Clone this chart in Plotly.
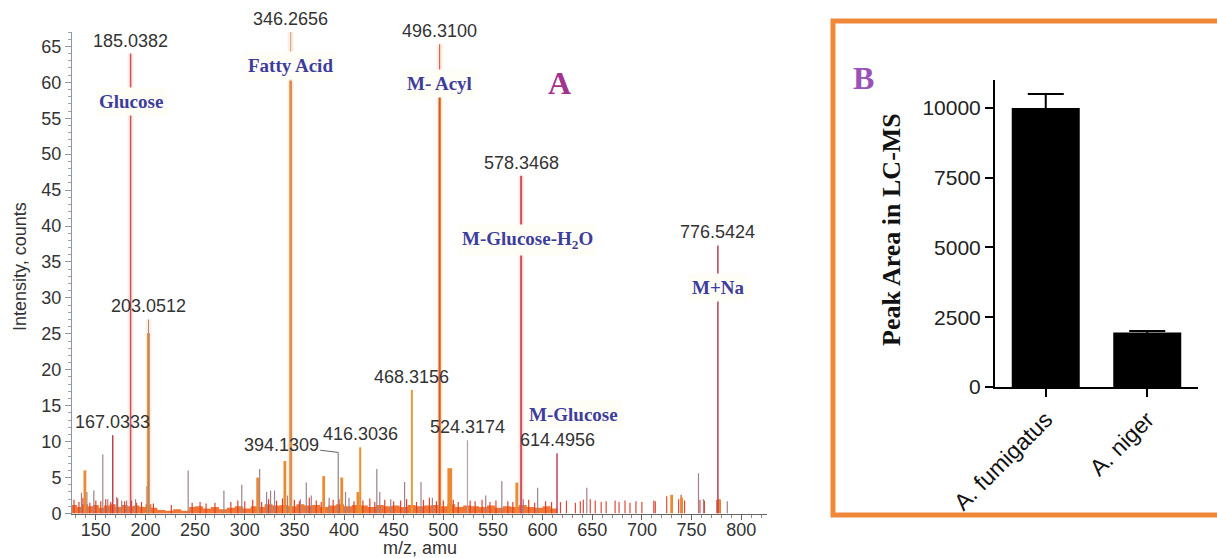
import plotly.graph_objects as go

W, H = 1217, 558

# ---------------- Panel A: MS/MS spectrum ----------------
# labelled fragment ions (thin trace)
label_mz = [167.0333, 185.0382, 203.0512, 346.2656, 394.1309, 416.3036,
            468.3156, 496.3100, 524.3174, 578.3468, 614.4956, 776.5424]
label_int = [10.9, 64.0, 27.0, 67.0, 8.5, 9.2, 17.2, 65.3, 10.2, 47.0, 8.4, 37.3]
label_txt = ["167.0333", "185.0382", "203.0512", "346.2656", "394.1309", "416.3036",
             "468.3156", "496.3100", "524.3174", "578.3468", "614.4956", "776.5424"]
label_colors = ["#c0404e", "#c8506a", "#9a8c8c", "#b89a86", "#8e8484", "#e8902e",
                "#e89a3a", "#d04a48", "#b8a0a6", "#d8486a", "#c8405a", "#b83c50"]
label_widths = [1.5, 1.5, 1.0, 0.9, 1.2, 2.0, 2.0, 1.0, 1.2, 2.0, 1.5, 1.5]

# second (orange) trace of the overlaid spectrum
orange_mz = [139.0, 203.0512, 313.0, 340.4, 346.2656, 379.5, 397.7, 414.0,
             496.3100, 505.5, 507.5, 574.0, 730.0, 740.0, 778.0]
orange_int = [6.0, 25.1, 5.0, 7.3, 60.2, 5.2, 5.0, 3.0,
              58.0, 6.3, 6.3, 4.3, 2.6, 2.2, 2.0]

# pale columns around the dominant fragments
halo_mz = [185.0382, 203.0512, 346.2656, 496.3100, 578.3468]
halo_int = [64.0, 27.0, 67.0, 65.3, 47.0]

# unlabelled minor ions
minor_mz = [135.5, 141.0, 148.0, 157.0, 162.0, 171.0, 176.0, 181.0, 190.0, 201.5,
            243.0, 279.0, 297.0, 315.0, 322.0, 326.0, 330.0, 343.0, 356.0, 362.0,
            367.0, 385.0, 401.5, 405.0, 433.0, 436.0, 447.0, 461.0, 477.5, 489.0,
            542.7, 558.9, 580.5, 595.0, 644.5, 757.0, 762.0, 786.0]
minor_int = [2.9, 3.0, 3.2, 8.2, 2.0, 2.3, 1.8, 1.8, 2.0, 3.8,
             6.0, 3.2, 4.0, 6.2, 3.0, 3.2, 3.2, 2.5, 2.0, 4.3,
             2.5, 2.2, 3.0, 2.2, 6.2, 3.0, 2.0, 4.4, 4.4, 2.2,
             2.5, 4.5, 2.0, 3.6, 3.6, 5.6, 2.0, 1.7]

# low-level ions above the baseline
base_mz = [128, 133, 137, 144, 150, 155, 160, 165, 172, 179,
           186, 191, 196, 208, 226, 247, 255, 261, 270, 286,
           293, 300, 308, 317, 324, 332, 338, 350, 355, 365,
           372, 377, 389, 395, 410, 419, 426, 431, 441, 450,
           457, 463, 473, 480, 486, 493, 500, 510, 515, 527,
           532, 539, 547, 553, 565, 570, 586, 592, 603, 609]
base_int = [1.9, 1.6, 2.2, 1.5, 1.8, 1.7, 2.0, 1.6, 2.1, 1.7,
            1.8, 1.5, 1.6, 1.4, 1.2, 1.5, 1.6, 1.4, 1.5, 1.6,
            1.8, 1.7, 1.9, 1.6, 2.0, 1.8, 2.1, 1.9, 1.7, 2.2,
            1.8, 1.6, 1.9, 2.0, 1.7, 1.8, 2.1, 1.6, 1.9, 1.7,
            1.8, 2.0, 1.6, 1.9, 2.2, 1.7, 1.8, 1.9, 1.6, 1.8,
            1.7, 1.9, 1.6, 1.8, 1.7, 1.6, 1.9, 1.5, 1.7, 1.6]

# sparse ions in the high-mass region
tail_mz = [618, 624, 633, 638, 641, 648, 653, 659, 664, 673, 677, 683, 688,
           694, 700, 712, 713.5, 725, 737, 739.5, 743, 758.5, 763, 775.5, 779]
tail_int = [1.6, 1.8, 1.5, 1.7, 1.9, 2.0, 1.8, 1.6, 1.7, 1.8, 1.6, 1.8, 1.5,
            1.7, 1.6, 1.8, 1.7, 2.4, 2.0, 2.6, 1.8, 1.9, 1.8, 1.9, 1.8]

# dense chemical-noise envelope
band_mz = [126, 131, 136, 142, 147, 153, 158, 164, 170, 176,
           182, 188, 194, 200, 206, 212, 220, 228, 236, 244,
           250, 258, 266, 274, 282, 290, 298, 306, 312, 320,
           328, 336, 344, 352, 360, 368, 376, 384, 392, 400,
           408, 416, 424, 432, 440, 448, 456, 464, 472, 480,
           488, 496, 504, 512, 520, 528, 536, 544, 552, 560,
           568, 576, 584, 592, 600, 608, 615]
band_top = [1.2, 0.9, 1.3, 1.0, 1.2, 0.8, 1.1, 1.3, 0.9, 1.2,
            1.0, 1.1, 0.9, 1.3, 0.8, 0.5, 0.4, 0.6, 0.4, 0.9,
            1.0, 0.7, 0.9, 0.6, 0.8, 1.0, 0.7, 1.0, 0.9, 1.3,
            1.1, 1.2, 1.0, 1.3, 1.1, 1.2, 0.9, 1.1, 1.3, 1.0,
            1.2, 1.1, 0.9, 1.2, 1.0, 1.1, 0.9, 1.2, 1.0, 1.1,
            1.2, 1.0, 1.3, 0.9, 1.1, 1.0, 0.9, 1.1, 0.8, 1.0,
            0.9, 1.2, 0.9, 0.8, 1.0, 0.7, 0.6]

# fragment assignments (m/z, intensity position of the tag)
assign_txt = ["Glucose", "Fatty Acid", "M- Acyl", "M-Glucose-H<sub>2</sub>O", "M+Na", "M-Glucose"]
assign_mz = [185.0382, 346.2656, 496.3100, 585.0, 776.5424, 630.8]
assign_y = [57.3, 62.3, 59.9, 38.0, 31.5, 13.8]

# ---------------- Panel B: peak areas ----------------
species = ["A. fumigatus", "A. niger"]
peak_area = [10000, 1950]
peak_area_err = [500, 60]
area_ticks = [0, 2500, 5000, 7500, 10000]


def sticks(xs, ys):
    sx, sy = [], []
    for x, y in zip(xs, ys):
        sx += [x, x, None]
        sy += [0, y, None]
    return sx, sy


fig = go.Figure()
AX = dict(xaxis="x", yaxis="y")

fig.add_trace(go.Bar(x=halo_mz, y=halo_int, width=6, marker_color="rgba(252,200,150,0.30)",
                     marker_line_width=0, hoverinfo="skip", **AX))

fig.add_trace(go.Scatter(x=band_mz, y=band_top, mode="lines", line_shape="hv",
                         line=dict(width=0, color="#f08a3c"), fill="tozeroy",
                         fillcolor="rgba(240,110,40,0.95)", hoverinfo="skip", **AX))

for xs, ys, col, w in [
    (base_mz, base_int, "#e0402a", 1.2),
    (tail_mz, tail_int, "#e0483a", 1.2),
    (minor_mz, minor_int, "#a0808a", 1.2),
    (orange_mz, orange_int, "#ec8a30", 2.8),
]:
    sx, sy = sticks(xs, ys)
    fig.add_trace(go.Scatter(x=sx, y=sy, mode="lines", line=dict(color=col, width=w),
                             hoverinfo="skip", **AX))

for mz, inten, col, w in zip(label_mz, label_int, label_colors, label_widths):
    fig.add_trace(go.Scatter(x=[mz, mz], y=[0, inten], mode="lines",
                             line=dict(color=col, width=w), hoverinfo="skip", **AX))

# precursor marker on the intensity axis
fig.add_trace(go.Scatter(x=[122.3], y=[7.0], mode="markers", cliponaxis=False,
                         marker=dict(symbol="triangle-right", size=10, color="#2f6db5"),
                         hoverinfo="skip", **AX))

fig.add_trace(go.Bar(x=species, y=peak_area, width=0.67, marker_color="black",
                     marker_line_width=0,
                     error_y=dict(type="data", array=peak_area_err, color="black",
                                  thickness=2, width=18),
                     xaxis="x2", yaxis="y2"))

SANS = "Liberation Sans, Arial, sans-serif"
SERIF = "Liberation Serif, Times New Roman, serif"

annotations = []
for mz, inten, txt in zip(label_mz, label_int, label_txt):
    if txt == "394.1309":
        annotations.append(dict(x=mz, y=inten, xref="x", yref="y", text=txt,
                                showarrow=True, arrowhead=0, arrowwidth=1, arrowcolor="#666",
                                ax=-57, ay=-7, standoff=0,
                                font=dict(family=SANS, size=18, color="#333")))
    else:
        annotations.append(dict(x=mz, y=inten, xref="x", yref="y", text=txt,
                                showarrow=False, xanchor="center", yanchor="bottom", yshift=1,
                                font=dict(family=SANS, size=18, color="#333")))

for txt, mz, yv in zip(assign_txt, assign_mz, assign_y):
    annotations.append(dict(x=mz, y=yv, xref="x", yref="y", text="<b>" + txt + "</b>",
                            showarrow=False, xanchor="center", yanchor="middle",
                            bgcolor="rgba(255,254,246,1)", borderpad=3,
                            font=dict(family=SERIF, size=19, color="#3d3d9e")))

CENTER = dict(xanchor="center", yanchor="middle", showarrow=False)
annotations += [
    dict(x=616.7, y=59.9, xref="x", yref="y", text="<b>A</b>",
         font=dict(family=SERIF, size=32, color="#a3338f"), **CENTER),
    dict(x=420 / W, y=(H - 548) / H, xref="paper", yref="paper", text="m/z, amu",
         font=dict(family=SANS, size=18, color="#333"), **CENTER),
    dict(x=20 / W, y=(H - 267) / H, xref="paper", yref="paper", text="Intensity, counts",
         textangle=-90, font=dict(family=SANS, size=18, color="#333"), **CENTER),
    dict(x=863 / W, y=(H - 78) / H, xref="paper", yref="paper", text="<b>B</b>",
         font=dict(family=SERIF, size=32, color="#9b52b8"), **CENTER),
    dict(x=891 / W, y=(H - 230) / H, xref="paper", yref="paper",
         text="<b>Peak Area in LC-MS</b>", textangle=-90,
         font=dict(family=SERIF, size=26, color="#111"), **CENTER),
]

fig.update_layout(
    width=W, height=H,
    margin=dict(l=0, r=0, t=0, b=0, autoexpand=False),
    paper_bgcolor="white", plot_bgcolor="white",
    showlegend=False, bargap=0.2,
    xaxis=dict(domain=[72 / W, 767 / W], range=[126, 826], anchor="y", automargin=False,
               tick0=0, dtick=50, ticks="outside", ticklen=5, tickcolor="#666",
               ticklabelstandoff=-5,
               showline=True, linecolor="#666", linewidth=1, showgrid=False, zeroline=False,
               minor=dict(dtick=10, ticks="outside", ticklen=3, tickcolor="#888"),
               tickfont=dict(family=SANS, size=18, color="#333")),
    yaxis=dict(domain=[(H - 513.5) / H, (H - 32) / H], range=[0, 67], anchor="x",
               automargin=False,
               tick0=0, dtick=5, ticks="outside", ticklen=6, tickcolor="#8c96a8",
               showline=True, linecolor="#8c96a8", linewidth=1, showgrid=False, zeroline=False,
               minor=dict(dtick=1, ticks="outside", ticklen=3, tickcolor="#9aa4b4"),
               tickfont=dict(family=SANS, size=18, color="#333")),
    xaxis2=dict(domain=[995 / W, 1198 / W], range=[-0.5, 1.5], anchor="y2", automargin=False,
                ticks="outside", ticklen=8, tickwidth=2, tickcolor="black",
                showline=True, linecolor="black", linewidth=2, showgrid=False,
                tickangle=-45, tickfont=dict(family=SANS, size=23, color="#111")),
    yaxis2=dict(domain=[(H - 387) / H, (H - 80) / H], range=[0, 11000], anchor="x2",
                automargin=False,
                tickvals=area_ticks, ticktext=[str(v) for v in area_ticks],
                ticks="outside", ticklen=8, tickwidth=2, tickcolor="black",
                showline=True, linecolor="black", linewidth=2, showgrid=False, zeroline=False,
                tickfont=dict(family=SANS, size=21, color="#222")),
    annotations=annotations,
    shapes=[dict(type="rect", xref="paper", yref="paper",
                 x0=833 / W, x1=1.02, y0=(H - 515) / H, y1=(H - 21) / H,
                 line=dict(color="#f0883a", width=5))],
)

fig.write_html("out.html")
